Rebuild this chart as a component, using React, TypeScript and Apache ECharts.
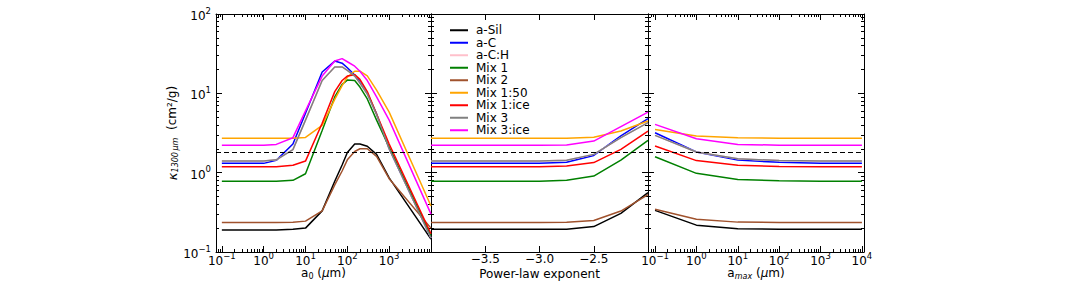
import React, { useEffect, useRef } from 'react';
import * as echarts from 'echarts';

const FONT = 'DejaVu Sans';

const SERIES_NAMES = ['a-Sil', 'a-C', 'a-C:H', 'Mix 1', 'Mix 2', 'Mix 1:50', 'Mix 1:ice', 'Mix 3', 'Mix 3:ice'];
const SERIES_COLORS = ['#000000', '#0000ff', '#ffc0cb', '#008000', '#a0522d', '#ffa500', '#ff0000', '#808080', '#ff00ff'];

// Panel 1: kappa vs a0 (um)
const A0_UM = [0.1, 1, 2, 5, 10, 25, 50, 75, 100, 150, 200, 300, 500, 1000, 10000];
const A0_ASIL = [0.19, 0.19, 0.19, 0.193, 0.2, 0.33, 0.78, 1.25, 1.8, 2.3, 2.3, 2.15, 1.7, 0.86, 0.145];
const A0_AC = [1.31, 1.31, 1.43, 2.3, 5.6, 18.6, 25.5, 24, 21, 17, 14, 10, 5.5, 2.0, 0.15];
const A0_ACH = [1.4, 1.4, 1.45, 1.95, 4.6, 14.5, 21.5, 21.5, 19.5, 16.5, 13.5, 9.8, 5.4, 2.0, 0.15];
const A0_MIX1 = [0.78, 0.78, 0.78, 0.8, 0.97, 3.4, 9.0, 13, 14.7, 14.5, 12, 8.5, 4.6, 2.1, 0.16];
const A0_MIX2 = [0.235, 0.235, 0.235, 0.237, 0.245, 0.33, 0.7, 1.05, 1.45, 1.85, 2.0, 2.0, 1.6, 0.84, 0.2];
const A0_MIX150 = [2.71, 2.71, 2.71, 2.72, 2.78, 3.94, 8.4, 12.5, 16, 19, 19, 16.6, 11, 5.8, 0.38];
const A0_MIX1ICE = [1.19, 1.19, 1.19, 1.24, 1.4, 4.2, 10.5, 14.5, 16.5, 17.2, 15, 10.5, 5.5, 2.3, 0.17];
const A0_MIX3 = [1.4, 1.4, 1.45, 1.95, 4.6, 14.5, 21.5, 21.5, 19.5, 16.5, 13.5, 9.8, 5.4, 2.0, 0.15];
const A0_MIX3ICE = [2.21, 2.21, 2.27, 2.76, 6.0, 16.5, 25.5, 27.4, 25, 22, 19, 14.5, 9, 4.6, 0.3];

// Panel 2: kappa vs power-law exponent
const EXPONENTS = [-4, -3.75, -3.5, -3.25, -3, -2.75, -2.5, -2.25, -2];
const P_ASIL = [0.193, 0.193, 0.193, 0.193, 0.193, 0.194, 0.209, 0.307, 0.56];
const P_AC = [1.31, 1.31, 1.31, 1.31, 1.31, 1.35, 1.65, 2.9, 4.8];
const P_ACH = [1.4, 1.4, 1.4, 1.4, 1.4, 1.43, 1.7, 2.76, 4.27];
const P_MIX1 = [0.78, 0.78, 0.78, 0.78, 0.78, 0.8, 0.906, 1.44, 2.55];
const P_MIX2 = [0.235, 0.235, 0.235, 0.235, 0.235, 0.237, 0.25, 0.328, 0.53];
const P_MIX150 = [2.71, 2.71, 2.71, 2.71, 2.71, 2.72, 2.8, 3.35, 4.47];
const P_MIX1ICE = [1.19, 1.19, 1.19, 1.19, 1.19, 1.21, 1.34, 1.97, 3.35];
const P_MIX3 = [1.4, 1.4, 1.4, 1.4, 1.4, 1.43, 1.7, 2.76, 4.27];
const P_MIX3ICE = [2.21, 2.21, 2.21, 2.21, 2.21, 2.23, 2.5, 3.8, 5.8];

// Panel 3: kappa vs amax (um)
const AMAX_UM = [0.1, 1, 10, 100, 1000, 10000];
const M_ASIL = [0.335, 0.218, 0.197, 0.194, 0.193, 0.193];
const M_AC = [3.19, 1.82, 1.44, 1.35, 1.31, 1.31];
const M_ACH = [2.95, 1.82, 1.5, 1.42, 1.4, 1.4];
const M_MIX1 = [1.59, 0.98, 0.82, 0.79, 0.78, 0.78];
const M_MIX2 = [0.345, 0.258, 0.238, 0.236, 0.235, 0.235];
const M_MIX150 = [3.51, 2.9, 2.75, 2.72, 2.71, 2.71];
const M_MIX1ICE = [2.17, 1.42, 1.24, 1.2, 1.19, 1.19];
const M_MIX3 = [2.95, 1.82, 1.5, 1.42, 1.4, 1.4];
const M_MIX3ICE = [4.06, 2.68, 2.27, 2.22, 2.21, 2.21];

const THRESHOLD = 1.84;

const Y_TICK_EXP = [-1, 0, 1, 2];
const LEFT_X_TICK_EXP = [-1, 0, 1, 2, 3, 4];
const LEFT_X_LABEL_EXP = [-1, 0, 1, 2, 3];
const RIGHT_X_TICK_EXP = [-1, 0, 1, 2, 3, 4];
const P_TICKS = [-3.5, -3.0, -2.5];

const A0_VALUES = [A0_ASIL, A0_AC, A0_ACH, A0_MIX1, A0_MIX2, A0_MIX150, A0_MIX1ICE, A0_MIX3, A0_MIX3ICE];
const P_VALUES = [P_ASIL, P_AC, P_ACH, P_MIX1, P_MIX2, P_MIX150, P_MIX1ICE, P_MIX3, P_MIX3ICE];
const M_VALUES = [M_ASIL, M_AC, M_ACH, M_MIX1, M_MIX2, M_MIX150, M_MIX1ICE, M_MIX3, M_MIX3ICE];

function logMinors(lo: number, hi: number) {
  const out: number[] = [];
  for (let n = -3; n <= 5; n++) {
    for (let k = 2; k <= 9; k++) {
      const v = n + Math.log10(k);
      if (v > lo + 1e-9 && v < hi - 1e-9) out.push(v);
    }
  }
  return out;
}

function supLabel(v: number) {
  const n = Math.round(v);
  const s = n < 0 ? '\u2212' + Math.abs(n) : String(n);
  return `{b|10}{s|${s}}`;
}

const SUP_RICH = {
  b: { fontSize: 12, fontFamily: FONT, color: '#000', lineHeight: 16, verticalAlign: 'bottom' },
  s: { fontSize: 8.5, fontFamily: FONT, color: '#000', lineHeight: 9, verticalAlign: 'top' },
};

const NAME_RICH = {
  t: { fontSize: 12, fontFamily: FONT, color: '#000', verticalAlign: 'top', lineHeight: 13 },
  it: { fontSize: 12, fontFamily: FONT, fontStyle: 'italic', color: '#000', verticalAlign: 'top', lineHeight: 13 },
  k: { fontSize: 13, fontFamily: FONT, fontStyle: 'italic', color: '#000', verticalAlign: 'top', lineHeight: 13 },
  sub: { fontSize: 8, fontFamily: FONT, color: '#000', verticalAlign: 'bottom', lineHeight: 8 },
  subi: { fontSize: 8, fontFamily: FONT, fontStyle: 'italic', color: '#000', verticalAlign: 'bottom', lineHeight: 8 },
};

function buildAxes(
  dim: 'x' | 'y',
  gridIndex: number,
  min: number,
  max: number,
  majors: number[],
  minors: number[],
  label: any,
  name: any
) {
  const positions = dim === 'x' ? ['bottom', 'top'] : ['left', 'right'];
  const out: any[] = [];
  positions.forEach((pos, i) => {
    out.push({
      type: 'value',
      gridIndex,
      min,
      max,
      position: pos,
      splitLine: { show: false },
      axisPointer: { show: false },
      axisLine: { show: true, onZero: false, lineStyle: { color: '#000', width: 1 } },
      axisTick: { show: true, inside: true, length: 6, customValues: majors, lineStyle: { color: '#000', width: 1 } },
      axisLabel: i === 0 && label ? label : { show: false },
      ...(i === 0 && name ? name : {}),
    });
    if (minors.length) {
      out.push({
        type: 'value',
        gridIndex,
        min,
        max,
        position: pos,
        splitLine: { show: false },
        axisPointer: { show: false },
        axisLine: { show: false, onZero: false },
        axisTick: { show: true, inside: true, length: 3, customValues: minors, lineStyle: { color: '#000', width: 1 } },
        axisLabel: { show: false },
      });
    }
  });
  return out;
}

function buildOption() {
  const gridBase = { top: 14, height: 238, containLabel: false, outerBoundsMode: 'none' };
  const grids = [
    { ...gridBase, left: 216, width: 215 },
    { ...gridBase, left: 431, width: 217 },
    { ...gridBase, left: 648, width: 216 },
  ];
  const xRanges = [
    [-1.14, 4.0],
    [-4, -2],
    [-1.17, 4.05],
  ];
  const yMin = -1;
  const yMax = 2;

  const xAxes: any[] = [];
  const yAxes: any[] = [];
  const xIdx: number[] = [];
  const yIdx: number[] = [];

  const logLabel = (values: number[]) => ({
    show: true,
    customValues: values,
    margin: -1,
    formatter: (v: number) => supLabel(v),
    rich: SUP_RICH,
  });

  const X_NAME_GAP = 15;

  for (let g = 0; g < 3; g++) {
    const [lo, hi] = xRanges[g];
    xIdx.push(xAxes.length);
    let axes;
    if (g === 0) {
      axes = buildAxes('x', g, lo, hi, LEFT_X_TICK_EXP, logMinors(lo, hi), logLabel(LEFT_X_LABEL_EXP), {
        name: '{t|a}{sub|0}{t| (}{it|\u03bc}{t|m)}',
        nameLocation: 'middle',
        nameGap: X_NAME_GAP,
        nameMoveOverlap: false,
        nameTextStyle: { rich: NAME_RICH, verticalAlign: 'top' },
      });
    } else if (g === 1) {
      axes = buildAxes('x', g, lo, hi, P_TICKS, [], {
        show: true,
        customValues: P_TICKS,
        margin: 0,
        fontSize: 12,
        lineHeight: 13,
        fontFamily: FONT,
        color: '#000',
        formatter: (v: number) => (v < 0 ? '\u2212' : '') + Math.abs(v).toFixed(1),
      }, {
        name: 'Power-law exponent',
        nameLocation: 'middle',
        nameGap: X_NAME_GAP,
        nameMoveOverlap: false,
        nameTextStyle: { fontSize: 12, fontFamily: FONT, color: '#000', lineHeight: 13, verticalAlign: 'top' },
      });
    } else {
      axes = buildAxes('x', g, lo, hi, RIGHT_X_TICK_EXP, logMinors(lo, hi), logLabel(RIGHT_X_TICK_EXP), {
        name: '{t|a}{subi|max}{t| (}{it|\u03bc}{t|m)}',
        nameLocation: 'middle',
        nameGap: X_NAME_GAP,
        nameMoveOverlap: false,
        nameTextStyle: { rich: NAME_RICH, verticalAlign: 'top' },
      });
    }
    xAxes.push(...axes);
  }

  for (let g = 0; g < 3; g++) {
    yIdx.push(yAxes.length);
    const label = g === 0
      ? { show: true, customValues: Y_TICK_EXP, margin: 5, formatter: (v: number) => supLabel(v), rich: SUP_RICH }
      : null;
    const name = g === 0
      ? {
          name: '{k|\u03ba}{subi|1300\u2009\u03bcm}{t|  (cm\u00b2/g)}',
          nameLocation: 'middle',
          nameRotate: 90,
          nameGap: 32,
          nameTextStyle: { rich: NAME_RICH },
        }
      : null;
    yAxes.push(...buildAxes('y', g, yMin, yMax, Y_TICK_EXP, logMinors(yMin, yMax), label, name));
  }

  const panels = [
    { xs: A0_UM.map((v) => Math.log10(v)), vals: A0_VALUES },
    { xs: EXPONENTS, vals: P_VALUES },
    { xs: AMAX_UM.map((v) => Math.log10(v)), vals: M_VALUES },
  ];

  const series: any[] = [];
  panels.forEach((p, g) => {
    SERIES_NAMES.forEach((name, i) => {
      const s: any = {
        type: 'line',
        name,
        xAxisIndex: xIdx[g],
        yAxisIndex: yIdx[g],
        data: p.xs.map((x, j) => [x, Math.log10(p.vals[i][j])]),
        symbol: 'none',
        showSymbol: false,
        silent: true,
        lineStyle: { color: SERIES_COLORS[i], width: 1.5 },
        itemStyle: { color: SERIES_COLORS[i] },
        emphasis: { disabled: true },
      };
      if (i === 0) {
        s.markLine = {
          silent: true,
          symbol: ['none', 'none'],
          label: { show: false },
          lineStyle: { color: '#000', type: [5, 3], width: 1.2 },
          data: [{ yAxis: Math.log10(THRESHOLD) }],
        };
      }
      series.push(s);
    });
  });

  return {
    animation: false,
    backgroundColor: '#ffffff',
    textStyle: { fontFamily: FONT },
    grid: grids,
    xAxis: xAxes,
    yAxis: yAxes,
    legend: {
      data: SERIES_NAMES,
      orient: 'vertical',
      left: 445,
      top: 19,
      itemWidth: 18,
      itemHeight: 2,
      itemGap: 0,
      icon: 'rect',
      selectedMode: false,
      textStyle: { fontSize: 12, fontFamily: FONT, color: '#000', lineHeight: 12.5, padding: [0, 0, 0, 3] },
    },
    series,
  };
}

export default function App() {
  const ref = useRef<HTMLDivElement>(null);
  useEffect(() => {
    if (!ref.current) return;
    const chart = echarts.init(ref.current, null, { renderer: 'svg' });
    chart.setOption(buildOption() as any);
    return () => chart.dispose();
  }, []);
  return <div ref={ref} style={{ position: 'absolute', left: 0, top: 0, width: 1080, height: 281 }} />;
}
